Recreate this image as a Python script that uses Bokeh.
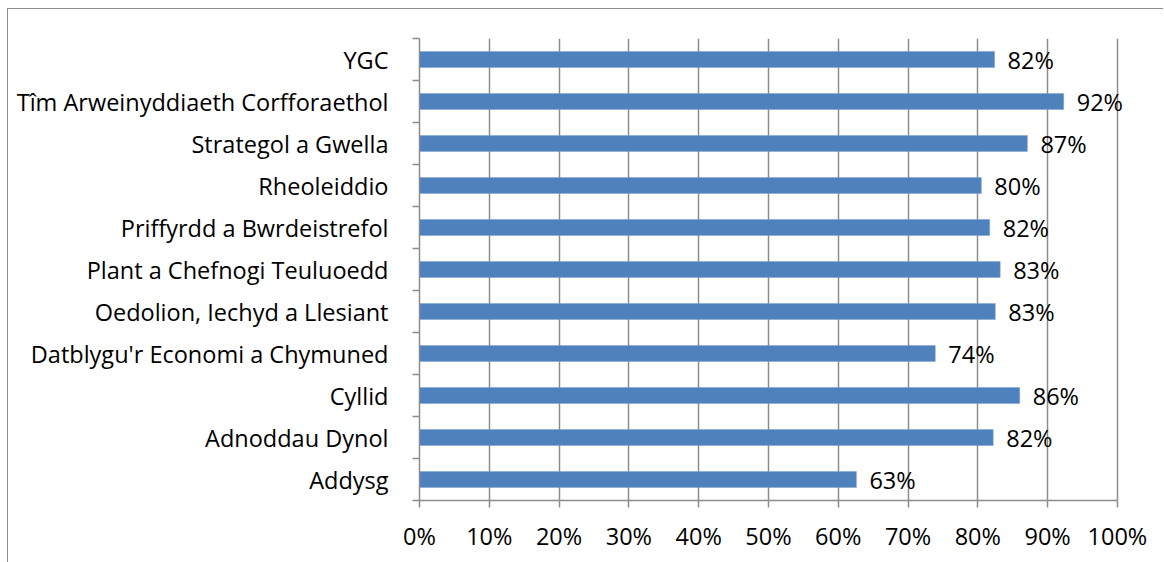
from bokeh.plotting import figure
from bokeh.models import ColumnDataSource, Range1d, FixedTicker
from bokeh.core.properties import value
from bokeh.embed import file_html
from bokeh.resources import INLINE

# Data (bottom to top)
categories = ["Addysg", "Adnoddau Dynol", "Cyllid", "Datblygu'r Economi a Chymuned",
              "Oedolion, Iechyd a Llesiant", "Plant a Chefnogi Teuluoedd",
              "Priffyrdd a Bwrdeistrefol", "Rheoleiddio", "Strategol a Gwella",
              "Tîm Arweinyddiaeth Corfforaethol", "YGC"]
values = [62.6, 82.2, 86.0, 73.9, 82.5, 83.2, 81.7, 80.5, 87.1, 92.3, 82.4]
value_labels = ["63%", "82%", "86%", "74%", "83%", "83%", "82%", "80%", "87%", "92%", "82%"]
x_ticks = [0, 10, 20, 30, 40, 50, 60, 70, 80, 90, 100]
x_tick_labels = ["0%", "10%", "20%", "30%", "40%", "50%", "60%", "70%", "80%", "90%", "100%"]

FONT = "Open Sans"
FS = "23.5px"
GRID = "#8c8c8c"

pos = list(range(len(categories)))
src = ColumnDataSource(dict(y=pos, v=values, lab=value_labels, cat=categories))

# frame spans 420..1164 px; 100% sits at 1117 px
p = figure(width=1156, height=554, output_backend="svg", toolbar_location=None,
           x_range=Range1d(0, 100 * 744 / 697), y_range=Range1d(-0.5, len(categories) - 0.5),
           min_border_left=411, min_border_right=0, min_border_top=29, min_border_bottom=63)
p.styles = {"margin-left": "7px", "margin-top": "8px",
            "border-left": "1px solid #8c8c8c", "border-top": "1px solid #8c8c8c"}
p.outline_line_color = None
p.background_fill_color = "white"
p.border_fill_color = "white"

p.hbar(y="y", right="v", left=0, height=0.38, source=src, fill_color="#4f81bd",
       line_color="#7fa3d0", line_width=0.5)
p.text(x="v", y="y", text="lab", source=src, x_offset=13, text_baseline="middle",
       text_align="left", text_font=value(FONT), text_font_size=FS, text_color="#000000")

# x axis
p.xaxis.ticker = FixedTicker(ticks=x_ticks, minor_ticks=[])
p.xaxis.bounds = (0, 100)
p.xaxis.major_label_overrides = {t: l for t, l in zip(x_ticks, x_tick_labels)}
p.xaxis.axis_line_color = GRID
p.xaxis.axis_line_width = 1.5
p.xaxis.major_tick_line_color = GRID
p.xaxis.major_tick_line_width = 1.5
p.xaxis.major_tick_out = 7
p.xaxis.major_tick_in = 0
p.xaxis.minor_tick_line_color = None
p.xaxis.major_label_standoff = 12
p.xaxis.major_label_text_font = FONT
p.xaxis.major_label_text_font_size = FS
p.xaxis.major_label_text_color = "#000000"

# y axis: labels at centers, tick marks at boundaries
boundaries = [i - 0.5 for i in range(len(categories) + 1)]
p.yaxis.ticker = FixedTicker(ticks=pos, minor_ticks=boundaries)
p.yaxis.major_label_overrides = {i: c for i, c in zip(pos, categories)}
p.yaxis.axis_line_color = GRID
p.yaxis.axis_line_width = 1.5
p.yaxis.major_tick_line_color = None
p.yaxis.major_tick_out = 0
p.yaxis.major_tick_in = 0
p.yaxis.minor_tick_line_color = GRID
p.yaxis.minor_tick_line_width = 1.5
p.yaxis.minor_tick_out = 7
p.yaxis.minor_tick_in = 0
p.yaxis.major_label_standoff = 24
p.yaxis.major_label_text_font = FONT
p.yaxis.major_label_text_font_size = FS
p.yaxis.major_label_text_color = "#000000"

p.xgrid.ticker = FixedTicker(ticks=x_ticks)
p.xgrid.grid_line_color = GRID
p.xgrid.grid_line_width = 1.5
p.ygrid.grid_line_color = None

open("out.html", "w").write(file_html(p, INLINE))
